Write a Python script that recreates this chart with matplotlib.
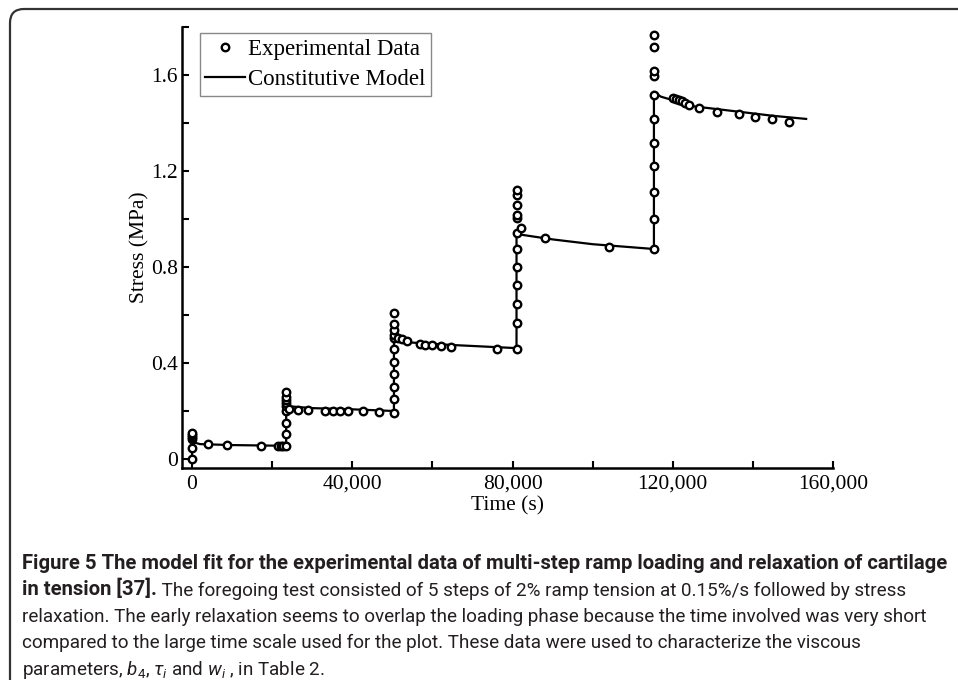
import matplotlib
matplotlib.use("Agg")
import matplotlib.pyplot as plt
from matplotlib.patches import FancyBboxPatch
from matplotlib.transforms import IdentityTransform
from matplotlib.ticker import MultipleLocator, FuncFormatter

# ---------------- data ----------------
# Experimental data (time in s, stress in MPa)
exp_t = ([0, 0, 0, 0, 0, 0] +
         [4000, 8700, 17200, 21500, 22200, 22800, 23400] +
         [23500] * 8 +
         [24200, 26500, 29000, 33200, 35200, 36900, 38900, 42700, 46700, 50400] +
         [50400] * 10 +
         [51400, 52500, 53700, 56900, 58200, 59900, 62200, 64700, 76100, 81000] +
         [81000] * 11 +
         [82000, 88000, 104000, 115300] +
         [115300] * 10 +
         [120100, 120800, 121500, 122300, 123100, 124100, 126600, 131100, 136500,
          140500, 144800, 149000])
exp_y = ([0, 0.047, 0.083, 0.092, 0.100, 0.108] +
         [0.062, 0.058, 0.056, 0.055, 0.055, 0.055, 0.055] +
         [0.105, 0.150, 0.200, 0.220, 0.233, 0.245, 0.258, 0.279] +
         [0.210, 0.206, 0.204, 0.200, 0.200, 0.200, 0.200, 0.198, 0.196, 0.190] +
         [0.250, 0.300, 0.354, 0.404, 0.458, 0.504, 0.517, 0.538, 0.563, 0.608] +
         [0.504, 0.500, 0.490, 0.479, 0.477, 0.473, 0.471, 0.468, 0.458, 0.458] +
         [0.567, 0.646, 0.725, 0.800, 0.875, 0.942, 1.004, 1.017, 1.058, 1.100, 1.121] +
         [0.962, 0.921, 0.885, 0.875] +
         [1.000, 1.113, 1.221, 1.317, 1.417, 1.517, 1.596, 1.617, 1.717, 1.767] +
         [1.504, 1.500, 1.497, 1.490, 1.485, 1.475, 1.462, 1.446, 1.437,
          1.425, 1.417, 1.404])

# Constitutive model curve
model_t = [0, 0, 300, 2000, 10000, 23500, 23500, 24000, 30000, 40000, 50400,
           50400, 51000, 55000, 65000, 81000, 81000, 82000, 90000, 100000, 115300,
           115300, 117000, 125000, 135000, 145000, 153300]
model_y = [0, 0.100, 0.070, 0.062, 0.058, 0.055, 0.230, 0.220, 0.212, 0.207, 0.200,
           0.510, 0.500, 0.485, 0.475, 0.462, 0.945, 0.935, 0.915, 0.895, 0.875,
           1.530, 1.510, 1.470, 1.450, 1.430, 1.417]

legend_labels = ["Experimental Data", "Constitutive Model"]
x_label = "Time (s)"
y_label = "Stress (MPa)"

caption_bold_1 = "Figure 5 The model fit for the experimental data of multi-step ramp loading and relaxation of cartilage"
caption_bold_2 = "in tension [37]."
caption_rest_2 = " The foregoing test consisted of 5 steps of 2% ramp tension at 0.15%/s followed by stress"
caption_3 = "relaxation. The early relaxation seems to overlap the loading phase because the time involved was very short"
caption_4 = "compared to the large time scale used for the plot. These data were used to characterize the viscous"
caption_5 = r"parameters, $b_4$, $\tau_i$ and $w_i$ , in Table 2."

# ---------------- figure ----------------
W, H = 958, 680
fig = plt.figure(figsize=(W / 100, H / 100), dpi=100)

serif = ["Liberation Serif", "DejaVu Serif"]
cap_font = ["Roboto", "DejaVu Sans"]
plt.rcParams["mathtext.fontset"] = "custom"
plt.rcParams["mathtext.it"] = "Roboto:italic"
plt.rcParams["mathtext.rm"] = "Roboto"

ax = fig.add_axes([182 / W, 1 - 468 / H, (833 - 182) / W, (468 - 27) / H])

ax.plot(model_t, model_y, color="black", lw=1.6, zorder=2,
        label=legend_labels[1])
ax.plot(exp_t, exp_y, linestyle="none", marker="o", markersize=5.4,
        markerfacecolor="white", markeredgecolor="black", markeredgewidth=1.7,
        zorder=3, label=legend_labels[0])

ax.set_xlim(-2500, 160000)
ax.set_ylim(-0.0375, 1.8)

for s in ["top", "right"]:
    ax.spines[s].set_visible(False)
for s in ["left", "bottom"]:
    ax.spines[s].set_linewidth(1.8)

ax.xaxis.set_major_locator(MultipleLocator(40000))
ax.xaxis.set_minor_locator(MultipleLocator(20000))
ax.yaxis.set_major_locator(MultipleLocator(0.4))
ax.yaxis.set_minor_locator(MultipleLocator(0.2))
ax.xaxis.set_major_formatter(FuncFormatter(lambda v, p: f"{int(round(v)):,}"))
ax.yaxis.set_major_formatter(FuncFormatter(lambda v, p: "0" if abs(v) < 1e-9 else f"{v:.1f}"))
ax.tick_params(which="both", direction="in", length=5, width=1.5)
ax.tick_params(axis="x", which="major", pad=5)
ax.tick_params(axis="y", which="major", pad=3)
for lab in ax.get_xticklabels() + ax.get_yticklabels():
    lab.set_fontfamily(serif)
    lab.set_fontsize(15.5)

ax.set_xlabel(x_label, fontfamily=serif, fontsize=15.5, labelpad=2)
ax.set_ylabel(y_label, fontfamily=serif, fontsize=15.5, labelpad=1)

handles, labels = ax.get_legend_handles_labels()
leg = ax.legend(handles[::-1], labels[::-1], loc="upper left",
                bbox_to_anchor=(0.027, 0.986), prop={"family": serif, "size": 16.5},
                fancybox=False, edgecolor="#888888", framealpha=1, numpoints=1,
                handlelength=1.75, handletextpad=0.1, borderpad=0.25,
                labelspacing=0.4, borderaxespad=0)
leg.get_frame().set_linewidth(1.0)

# ---------------- border ----------------
border = FancyBboxPatch((10, -60), 1200, (H - 9) + 60,
                        boxstyle="round,pad=0,rounding_size=14",
                        transform=IdentityTransform(), fill=False,
                        edgecolor="#333333", linewidth=1.6)
fig.patches.append(border)
border.set_figure(fig)

# ---------------- caption ----------------
x0 = 22 / W
baselines = [569, 595.5, 622, 648.5, 675]
cap_color = "#231f20"


def yb(i):
    return 1 - baselines[i] / H


renderer = fig.canvas.get_renderer()


def fit_size(text, weight, target_px, start=14.0):
    t = fig.text(0, 0, text, fontfamily=cap_font, fontweight=weight, fontsize=start)
    w = t.get_window_extent(renderer).width
    t.remove()
    return start * target_px / w


bold_size = fit_size(caption_bold_1, "bold", 948 - 22)
reg_size = fit_size(caption_3, "normal", 936 - 22)

fig.text(x0, yb(0), caption_bold_1, fontfamily=cap_font, fontweight="bold",
         fontsize=bold_size, va="baseline", color=cap_color)
tb = fig.text(x0, yb(1), caption_bold_2, fontfamily=cap_font, fontweight="bold",
              fontsize=bold_size, va="baseline", color=cap_color)
bb = tb.get_window_extent(renderer)
fig.text(bb.x1 / W, yb(1), caption_rest_2, fontfamily=cap_font, fontsize=reg_size,
         va="baseline", color=cap_color)
fig.text(x0, yb(2), caption_3, fontfamily=cap_font, fontsize=reg_size,
         va="baseline", color=cap_color)
fig.text(x0, yb(3), caption_4, fontfamily=cap_font, fontsize=reg_size,
         va="baseline", color=cap_color)
fig.text(x0, yb(4), caption_5, fontfamily=cap_font, fontsize=reg_size,
         va="baseline", color=cap_color)

fig.savefig("out.png", dpi=100)
